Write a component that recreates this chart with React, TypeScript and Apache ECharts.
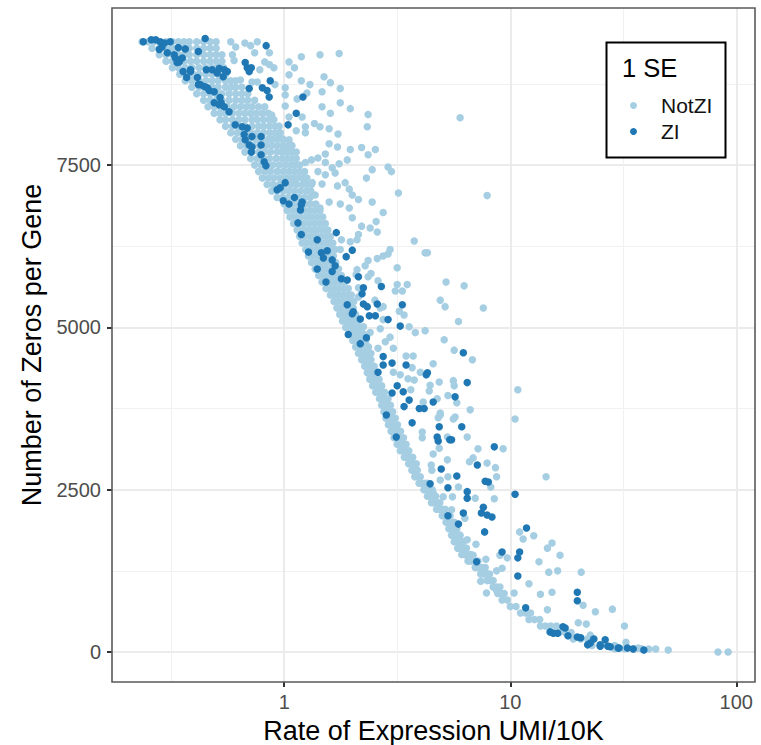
import React, { useEffect, useRef } from "react";
import * as echarts from "echarts";

// zeros per gene -> expression rates of the dense NotZI ridge at that level
const notZiRidge: [number, number[]][] = [
  [9400, [.235, .25, .265, .28, .3, .32, .34, .36, .38, .41, .44, .47, .5]],
  [9300, [.26, .28, .3, .32, .34, .36, .38, .41, .44, .47, .5]],
  [9200, [.28, .3, .32, .34, .36, .38, .41, .44, .47, .5, .53]],
  [9100, [.3, .32, .34, .36, .385, .41, .44, .47, .5, .53]],
  [9000, [.32, .34, .365, .39, .42, .45, .48, .51, .54]],
  [8900, [.345, .37, .395, .42, .45, .48, .51, .55]],
  [8800, [.365, .39, .42, .45, .48, .51, .55, .58, .61]],
  [8700, [.39, .42, .45, .48, .51, .55, .58, .61, .65]],
  [8600, [.41, .44, .47, .5, .53, .57, .61, .65, .69]],
  [8500, [.44, .47, .5, .53, .57, .61, .65, .69, .74]],
  [8400, [.46, .49, .52, .56, .6, .64, .68, .72, .77, .82]],
  [8300, [.49, .52, .55, .59, .63, .67, .71, .75, .8, .85]],
  [8200, [.52, .55, .59, .63, .67, .72, .76, .81, .86, .9]],
  [8100, [.55, .59, .63, .67, .72, .77, .81, .86, .91, .95]],
  [8000, [.58, .62, .66, .71, .76, .81, .86, .91, .96]],
  [7900, [.61, .65, .7, .75, .8, .85, .89, .94, .99]],
  [7800, [.64, .68, .73, .78, .83, .88, .93, .98, 1.03, 1.08]],
  [7700, [.67, .72, .77, .82, .87, .93, .98, 1.03, 1.08, 1.13]],
  [7600, [.71, .76, .81, .86, .92, .98, 1.03, 1.08, 1.13]],
  [7500, [.74, .79, .84, .89, .95, 1.01, 1.07, 1.12, 1.17]],
  [7400, [.77, .82, .87, .93, .99, 1.05, 1.11, 1.17, 1.23]],
  [7300, [.8, .85, .9, .96, 1.02, 1.08, 1.14, 1.2, 1.26]],
  [7200, [.84, .89, .95, 1.01, 1.07, 1.13, 1.2, 1.26, 1.32]],
  [7100, [.88, .93, .99, 1.05, 1.11, 1.18, 1.25, 1.31]],
  [7000, [.93, .98, 1.04, 1.1, 1.16, 1.23, 1.3]],
  [6900, [1.0, 1.05, 1.11, 1.17, 1.24, 1.31, 1.38]],
  [6800, [1.03, 1.09, 1.15, 1.22, 1.29, 1.36, 1.44]],
  [6700, [1.06, 1.12, 1.18, 1.25, 1.32, 1.4, 1.48]],
  [6600, [1.1, 1.16, 1.22, 1.29, 1.36, 1.44, 1.52]],
  [6500, [1.14, 1.2, 1.26, 1.33, 1.4, 1.48, 1.56]],
  [6400, [1.17, 1.23, 1.3, 1.37, 1.45, 1.53, 1.6]],
  [6300, [1.2, 1.26, 1.33, 1.4, 1.48, 1.56, 1.64]],
  [6200, [1.245, 1.31, 1.38, 1.45, 1.53, 1.6, 1.68]],
  [6100, [1.28, 1.35, 1.42, 1.49, 1.57, 1.65]],
  [6000, [1.32, 1.39, 1.46, 1.53, 1.61, 1.69]],
  [5900, [1.37, 1.44, 1.51, 1.58, 1.66, 1.74]],
  [5800, [1.42, 1.49, 1.56, 1.63, 1.71, 1.79]],
  [5700, [1.47, 1.54, 1.61, 1.69, 1.77, 1.85]],
  [5600, [1.53, 1.6, 1.67, 1.75, 1.83, 1.92]],
  [5500, [1.6, 1.67, 1.74, 1.82, 1.9, 1.98]],
  [5400, [1.66, 1.73, 1.81, 1.89, 1.97, 2.03]],
  [5300, [1.71, 1.78, 1.86, 1.94, 2.02]],
  [5200, [1.76, 1.83, 1.91, 1.99, 2.07]],
  [5100, [1.81, 1.88, 1.96, 2.04, 2.12]],
  [5000, [1.87, 1.94, 2.02, 2.1, 2.18]],
  [4900, [1.94, 2.01, 2.08, 2.16, 2.24]],
  [4800, [2.01, 2.08, 2.15, 2.23, 2.3]],
  [4700, [2.07, 2.14, 2.21, 2.29, 2.36]],
  [4600, [2.13, 2.2, 2.27, 2.35, 2.42]],
  [4500, [2.2, 2.27, 2.34, 2.42]],
  [4400, [2.27, 2.34, 2.42, 2.5]],
  [4300, [2.33, 2.41, 2.49, 2.57]],
  [4200, [2.39, 2.47, 2.55, 2.63]],
  [4100, [2.46, 2.54, 2.62, 2.7]],
  [4000, [2.54, 2.62, 2.7, 2.78]],
  [3900, [2.64, 2.72, 2.8, 2.88]],
  [3800, [2.7, 2.78, 2.86, 2.95]],
  [3700, [2.76, 2.84, 2.93, 3.02]],
  [3600, [2.82, 2.91, 3.0, 3.1]],
  [3500, [2.89, 2.98, 3.07, 3.17]],
  [3400, [2.97, 3.06, 3.16, 3.27]],
  [3300, [3.06, 3.16, 3.26, 3.37]],
  [3200, [3.16, 3.26, 3.36, 3.46]],
  [3100, [3.26, 3.36, 3.46, 3.56]],
  [3000, [3.4, 3.5, 3.6, 3.7]],
  [2900, [3.55, 3.65, 3.75, 3.84]],
  [2800, [3.67, 3.77, 3.88]],
  [2700, [3.78, 3.89, 4.0]],
  [2600, [3.95, 4.07, 4.2, 4.32]],
  [2500, [4.15, 4.28, 4.4, 4.52]],
  [2400, [4.3, 4.42, 4.55, 4.68]],
  [2300, [4.48, 4.6, 4.74, 4.88]],
  [2200, [4.72, 4.85, 5.0, 5.15]],
  [2100, [5.0, 5.14, 5.28, 5.42]],
  [2000, [5.2, 5.35, 5.5, 5.65]],
  [1900, [5.35, 5.5, 5.66, 5.8]],
  [1800, [5.5, 5.66, 5.82, 6.0]],
  [1700, [5.65, 5.82, 6.0, 6.2]],
  [1600, [5.85, 6.02, 6.2, 6.4]],
  [1500, [6.1, 6.3, 6.5, 6.7]],
  [1400, [6.5, 6.7, 6.95, 7.2]],
  [1300, [7.0, 7.25, 7.5, 7.75]],
  [1200, [7.4, 7.65, 7.9, 8.1]],
  [1100, [7.9, 8.15, 8.4]],
  [1000, [8.4, 8.7, 9.0]],
  [900, [8.8, 9.1, 9.4]],
  [800, [9.2, 9.7]],
  [700, [10, 10.6]],
  [600, [11.1, 11.7, 12.3]],
  [500, [12.1, 12.8, 13.5]],
  [400, [13.6, 14.3, 15.1, 16]],
  [300, [15.5, 16.5, 17.5, 18.6]],
  [200, [19, 20.5, 22, 23.5]],
  [100, [23, 25, 27, 29]],
  [50, [29, 32, 35, 38]],
];

const notZiUpper: [number, number][] = [
  [.58,9400],[.61,9320],[.67,9380],[.71,9340],[.76,9400],[.59,9200],[.6,9110],[.74,9230],[.86,9230],[.82,9090],
  [.86,9050],[.9,9000],[.78,8970],[.64,8810],[.72,8780],[.76,8780],[.91,8740],[1.01,8690],[1.01,8580],[1.01,8410],
  [1.05,8240],[.88,8270],[.8,8300],[1.14,8520],[1.26,8610],[1.47,8630],[1.77,8680],[1.47,8400],[1.77,8460],[1.6,8300],
  [1.96,8370],[1.2,8240],[1.36,8140],[1.24,8090],[1.44,8090],[1.58,8060],[1.73,7980],[1.13,8030],[1.24,8000],[1.58,7830],
  [1.72,7780],[1.52,7670],[1.41,7610],[1.32,7580],[1.24,7540],[1.52,7540],[1.75,7520],[1.63,7460],[1.41,7400],[1.68,7380],
  [1.52,7350],[1.94,7130],[1.47,7210],[1.33,7230],[1.24,7230],[1.12,7230],[1.37,7040],[1.44,6840],[1.58,6930],[1.77,6900],
  [1.94,6840],[1.05,7890],[1.08,7800],[.95,7950],[1.05,9090],[1.11,9000],[1.05,8890],[1.19,9170],[1.44,9200],[1.75,9220],
  [1.19,8800],[1.3,8740],[1.5,8860],[1.6,8770],[2.35,8280],[2.33,8090],[2.53,7740],[2.35,7660],[2.2,7770],[2.45,7430],
  [2.88,7470],[2.98,7400],[3.2,7070],[2,7040],[2.13,6970],[2.31,7300],[1.9,7580],[1.96,7740],[6,8230],[7.9,7030],
  [3.76,6330],[4.3,6150],[2.94,6200],[2.4,6530],[2.55,6630],[2.74,6770],[2,6690],[2.2,6560],[1.86,7230],[1.72,7180],
];

const notZiMiddle: [number, number][] = [
  [2.45,6930],[2.58,6470],[2.13,6430],[2.1,6350],[1.96,6320],[1.79,6350],[4.2,6150],[2.88,6130],[2.74,6100],[2.58,6060],
  [2.35,6030],[2.28,5950],[3.16,5920],[1.77,6200],[2.1,5890],[2.42,5830],[2.35,5780],[2.08,5810],[2.6,5720],[5.2,5700],
  [6.25,5640],[3.16,5660],[3.5,5660],[3.1,5560],[3.33,5560],[2.13,5610],[2.13,5470],[4.9,5420],[5.15,5320],[7.6,5300],
  [2.52,5420],[2.74,5320],[2.66,5300],[3.23,5250],[3.39,5190],[5.9,5090],[3.57,5010],[3.8,4920],[4.2,4950],[2.74,5120],
  [2.66,4980],[2.4,4920],[2.24,5010],[2.94,4850],[2.8,4780],[2.6,4680],[3.04,4680],[5.1,4810],[5.65,4650],[6.8,4500],
  [3.46,4560],[3.72,4560],[4.56,4440],[3.68,4380],[4,4310],[3.04,4310],[3.26,4270],[3.53,4210],[3.76,4190],[4.42,4110],
  [4.85,4160],[5.6,4180],[5.65,4100],[4.38,4020],[3.63,4040],[5.3,3950],[5.8,3840],[6.65,3730],[4.12,3850],[4.75,3900],
  [4.9,3650],[5.7,3620],
];

const notZiLower: [number, number][] = [
  [10.8,4040],[10.5,3590],[5.6,3590],[4.9,3680],[4.8,3610],[4.08,3390],[4.08,3300],[6.45,3310],[5.27,3310],[4.85,3140],
  [4.56,3050],[7.2,3130],[9.3,3130],[5.27,2960],[6.85,2990],[6.6,2930],[7.9,2910],[8.6,2840],[8.7,2700],[14.4,2700],
  [4.47,2880],[4.5,2800],[4.9,2650],[5.3,2700],[8.2,2540],[5.9,2540],[4.56,2450],[5.05,2390],[5.55,2390],[7,2370],
  [8.5,2360],[5.5,2190],[6.3,2060],[11,1850],[12.7,1790],[11.4,1740],[15.3,1680],[14.6,1600],[16.6,1490],[13.4,1390],
  [14.8,1230],[16.2,1250],[20.6,1230],[6.45,1730],[7.05,1660],[9,1490],[9.7,1450],[7.8,1430],[6.85,1490],[9.2,1290],
  [8.7,1250],[12.1,1050],[13.6,890],[15.3,920],[10.4,910],[21,720],[23.8,620],[28.3,660],[14.6,650],[20,450],
  [21.7,430],[7.85,910],[7.4,1090],[8.7,950],[32,400],[32.5,150],[50,30],[83,0],[92,0],[44,45],
  [41,45],[36.8,60],[18.4,260],[22.6,260],
];

const ziUpper: [number, number][] = [
  [.238,9400],[.258,9430],[.27,9430],[.283,9400],[.295,9380],[.288,9320],[.28,9280],[.313,9400],[.34,9310],[.365,9290],
  [.417,9250],[.447,9450],[.304,9230],[.326,9200],[.33,9150],[.343,9090],[.354,9150],[.336,9080],[.357,8940],[.37,8850],
  [.385,8970],[.385,8940],[.452,8970],[.48,8970],[.516,8990],[.505,8920],[.543,8970],[.56,8940],[.537,8860],[.413,8850],
  [.425,8740],[.417,8740],[.443,8710],[.457,8690],[.466,8650],[.49,8630],[.52,8540],[.49,8460],[.516,8430],[.543,8400],
  [.57,8320],[.526,8460],[.672,9080],[.686,9000],[.715,9000],[.7,8940],[.832,9340],[.867,8800],[.7,8680],[.8,8690],
  [.84,8650],[.858,8550],[1.21,8550],[1.13,8300],[1.04,8120],[.607,8120],[.652,8090],[.686,8070],[.665,7970],[.72,7940],
  [.79,7940],[.672,7890],[.7,7810],[.72,7780],[.79,7810],[.715,7700],[.79,7660],[.815,7550],[.83,7490],[.93,7120],
  [.96,7150],[1.01,7230],[.99,6950],[1.05,6900],[1.11,7000],[1.2,6930],[1.19,6890],[1.18,6810],[1.15,6610],[1.19,6430],
  [1.7,6460],[1.4,6350],
];

const ziMiddle: [number, number][] = [
  [1.28,6160],[1.46,6150],[1.55,6180],[1.49,6070],[2,6190],[1.88,6090],[1.63,6040],[1.68,5950],[1.63,5860],[1.4,5900],
  [1.53,5700],[1.79,5750],[1.9,5730],[2.13,5780],[2.69,5630],[2.24,5610],[2.21,5520],[1.9,5350],[2.24,5360],[2.33,5320],
  [2.58,5360],[3.33,5350],[2.02,5240],[2,5210],[2.17,5130],[2.38,5180],[2.53,5180],[2.88,5120],[3.26,5020],[1.92,4890],
  [2.31,4840],[2.17,4750],[6.2,4610],[2.74,4550],[2.74,4420],[3,4450],[3.46,4420],[2.6,4310],[4.3,4300],[4.25,4270],
  [6.45,4150],[3.16,4100],[3.36,4010],[3,3990],[5.7,3930],[3.57,3880],[4.56,3850],[3.39,3780],[3.96,3750],[4.16,3750],
  [2.83,3650],
];

const ziLower: [number, number][] = [
  [3.68,3530],[4.85,3470],[6.1,3470],[3.13,3310],[4.75,3310],[4.8,3250],[5.4,3270],[5.5,3270],[8.5,3160],[7.15,2880],
  [4.95,2820],[5.8,2710],[7.75,2630],[8,2620],[4.42,2590],[5.3,2530],[6.45,2470],[6.45,2370],[10.5,2430],[7.6,2230],
  [6.2,2140],[5.3,2100],[7.45,2140],[7.9,2110],[8.3,2080],[5.9,1970],[7.7,1850],[11.8,1910],[9.2,1540],[11,1540],
  [10.8,1450],[7.1,1390],[10.8,1170],[19.8,920],[19.8,790],[11.7,680],[17.1,390],[17.5,370],[15,310],[15.5,290],
  [16.2,290],[18,250],[19.8,230],[20.5,220],[22,110],[22.6,140],[23.4,200],[25,110],[26.3,190],[27,90],
  [30,60],[27.7,80],[30.3,60],[33,60],[35,45],[39,30],[25,90],
];

const xMajorTicks = [1, 10, 100];
const xMinorTicks = [0.316, 3.16, 31.6];
const yMajorTicks = [0, 2500, 5000, 7500];
const yMinorTicks = [1250, 3750, 6250, 8750];
const xRange = [0.173, 121];
const yRange = [-462, 9920];

const LIGHT = "#a6cee3";
const DARK = "#1f78b4";
const FONT = "'Liberation Sans', Arial, sans-serif";

export default function App() {
  const ref = useRef<HTMLDivElement>(null);
  useEffect(() => {
    const chart = echarts.init(ref.current!, undefined, { renderer: "svg" });
    const notZi = [
      ...notZiRidge.flatMap(([z, rates]) => rates.map((r) => [r, z])),
      ...notZiUpper,
      ...notZiMiddle,
      ...notZiLower,
    ];
    const zi = [...ziUpper, ...ziMiddle, ...ziLower];
    const major = { show: true, lineStyle: { color: "#ebebeb", width: 2 } };
    const minor = { show: true, lineStyle: { color: "#f1f1f1", width: 1 } };
    const fmt = (v: number) => String(Math.round(v));
    chart.setOption({
      animation: false,
      backgroundColor: "#fff",
      textStyle: { fontFamily: FONT },
      grid: { left: 112, right: 6, top: 8, bottom: 63, containLabel: false, show: false, outerBoundsMode: "none" },
      xAxis: [
        {
          type: "log",
          min: xRange[0],
          max: xRange[1],
          z: 1,
          axisLine: { show: false, onZero: false },
          axisTick: { show: true, length: 5, lineStyle: { color: "#333", width: 2 }, customValues: xMajorTicks },
          axisLabel: { show: true, customValues: xMajorTicks, formatter: fmt, color: "#4d4d4d", fontSize: 20, margin: 10, fontFamily: FONT },
          splitLine: major,
          minorTick: { show: false },
          name: "Rate of Expression UMI/10K",
          nameLocation: "middle",
          nameGap: 35,
          nameTextStyle: { color: "#000", fontSize: 27, fontFamily: FONT },
        },
        {
          type: "log",
          min: xRange[0],
          max: xRange[1],
          position: "bottom",
          axisLine: { show: false, onZero: false },
          axisTick: { show: false, customValues: xMinorTicks },
          axisLabel: { show: false, customValues: xMinorTicks },
          splitLine: minor,
        },
      ],
      yAxis: [
        {
          type: "value",
          min: yRange[0],
          max: yRange[1],
          axisLine: { show: false, onZero: false },
          axisTick: { show: true, length: 5, lineStyle: { color: "#333", width: 2 }, customValues: yMajorTicks },
          axisLabel: { show: true, customValues: yMajorTicks, formatter: fmt, color: "#4d4d4d", fontSize: 20, margin: 11, fontFamily: FONT },
          splitLine: major,
          name: "Number of Zeros per Gene",
          nameLocation: "middle",
          nameGap: 66,
          nameTextStyle: { color: "#000", fontSize: 27, fontFamily: FONT },
        },
        {
          type: "value",
          min: yRange[0],
          max: yRange[1],
          position: "left",
          axisLine: { show: false, onZero: false },
          axisTick: { show: false, customValues: yMinorTicks },
          axisLabel: { show: false, customValues: yMinorTicks },
          splitLine: minor,
        },
      ],
      legend: {
        show: true,
        orient: "vertical",
        left: 630,
        top: 95,
        itemWidth: 7,
        itemHeight: 7,
        itemGap: 5,
        padding: 0,
        icon: "circle",
        data: ["NotZI", "ZI"],
        textStyle: { color: "#111", fontSize: 21, fontFamily: FONT, padding: [0, 0, 0, 19] },
      },
      graphic: [
        { type: "rect", z: 3, shape: { x: 606.5, y: 42.5, width: 119, height: 115 }, style: { fill: "#fff", stroke: "#000", lineWidth: 2 } },
        { type: "text", z: 5, x: 622, y: 55, style: { text: "1 SE", fill: "#000", fontSize: 25.5, fontFamily: FONT } },
        { type: "rect", z: 6, silent: true, shape: { x: 112, y: 8, width: 643, height: 674 }, style: { fill: "none", stroke: "#5a5a5a", lineWidth: 1.6 } },
      ],
      series: [
        { name: "NotZI", type: "scatter", symbol: "circle", symbolSize: 7.5, xAxisIndex: 0, yAxisIndex: 0, itemStyle: { color: LIGHT, opacity: 1 }, data: notZi, silent: true },
        { name: "ZI", type: "scatter", symbol: "circle", symbolSize: 7.5, xAxisIndex: 0, yAxisIndex: 0, itemStyle: { color: DARK, opacity: 1 }, data: zi, silent: true },
      ],
    });
    return () => chart.dispose();
  }, []);
  return <div ref={ref} style={{ position: "fixed", left: 0, top: 0, width: 761, height: 745 }} />;
}
